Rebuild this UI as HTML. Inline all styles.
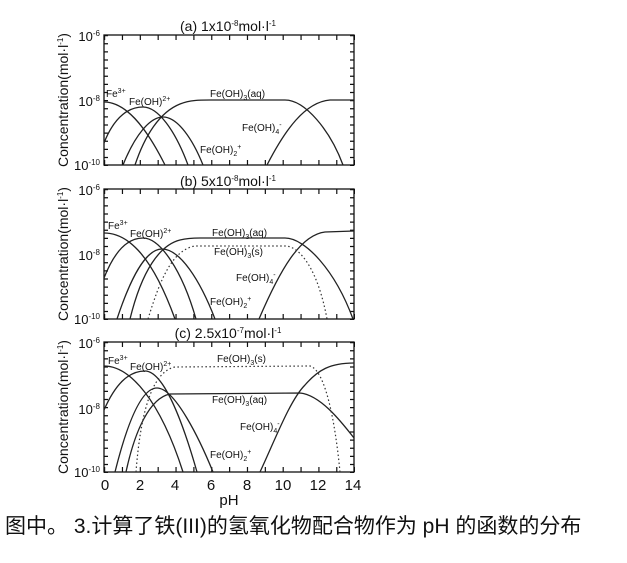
<!DOCTYPE html>
<html><head><meta charset="utf-8"><style>
html,body{margin:0;padding:0;background:#fff;width:627px;height:563px;overflow:hidden}
svg{display:block}
text{font-family:"Liberation Sans",Arial,sans-serif;fill:#111}
.c{fill:none;stroke:#222;stroke-width:1.3}
.d{fill:none;stroke:#333;stroke-width:1.2;stroke-dasharray:1.5 2.5}
.l{font-size:10px}
.t{font-size:14px}
.y{font-size:13px}
.a{font-size:15px}
</style></head><body>
<svg width="627" height="563" viewBox="0 0 627 563">
<defs>
<g id="box">
<rect x="104" y="0" width="250" height="130" fill="none" stroke="#111" stroke-width="1.3"/>
<line x1="104" y1="2.5" x2="355" y2="2.5" stroke="#111" stroke-width="5" stroke-dasharray="1.2 16.66"/>
<line x1="104" y1="127.5" x2="355" y2="127.5" stroke="#111" stroke-width="5" stroke-dasharray="1.2 16.66"/>
<line x1="106" y1="0" x2="106" y2="131" stroke="#111" stroke-width="4" stroke-dasharray="1.2 6.925"/>
<line x1="352" y1="0" x2="352" y2="131" stroke="#111" stroke-width="4" stroke-dasharray="1.2 6.925"/>
</g>
</defs>

<!-- Panel a -->
<text class="t" x="228" y="31" text-anchor="middle">(a) 1x10<tspan font-size="8" dy="-5">-8</tspan><tspan dy="5">mol·l</tspan><tspan font-size="8" dy="-5">-1</tspan></text>
<use href="#box" y="35"/>
<text class="y" x="100" y="41" text-anchor="end">10<tspan font-size="8" dy="-5">-6</tspan></text>
<text class="y" x="100" y="106" text-anchor="end">10<tspan font-size="8" dy="-5">-8</tspan></text>
<text class="y" x="100" y="170" text-anchor="end">10<tspan font-size="8" dy="-5">-10</tspan></text>
<text class="t" transform="translate(68,100) rotate(-90)" text-anchor="middle">Concentration(mol·l<tspan font-size="8" dy="-5">-1</tspan><tspan dy="5">)</tspan></text>
<path class="c" d="M104,102 C125,102 145,125 165,165"/>
<path class="c" d="M104,143 C115,115 130,107 143,107 C158,107 175,130 188,165"/>
<path class="c" d="M123,165 C135,135 150,117 163,117 C178,117 193,140 203,165"/>
<path class="c" d="M135,165 C145,135 160,112 180,104 C190,100 200,100 210,100 L285,100 C305,100 330,130 343,165"/>
<path class="c" d="M267,165 C285,130 305,102 330,100 L354,100"/>
<text class="l" x="106" y="97">Fe<tspan font-size="7" dy="-4">3+</tspan></text>
<text class="l" x="129" y="105">Fe(OH)<tspan font-size="7" dy="-4">2+</tspan></text>
<text class="l" x="210" y="97">Fe(OH)<tspan font-size="7" dy="3">3</tspan><tspan dy="-3">(aq)</tspan></text>
<text class="l" x="242" y="131">Fe(OH)<tspan font-size="7" dy="3">4</tspan><tspan font-size="7" dy="-7">-</tspan></text>
<text class="l" x="200" y="153">Fe(OH)<tspan font-size="7" dy="3">2</tspan><tspan font-size="7" dy="-7">+</tspan></text>

<!-- Panel b -->
<text class="t" x="228" y="186" text-anchor="middle">(b) 5x10<tspan font-size="8" dy="-5">-8</tspan><tspan dy="5">mol·l</tspan><tspan font-size="8" dy="-5">-1</tspan></text>
<use href="#box" y="189"/>
<text class="y" x="100" y="195" text-anchor="end">10<tspan font-size="8" dy="-5">-6</tspan></text>
<text class="y" x="100" y="260" text-anchor="end">10<tspan font-size="8" dy="-5">-8</tspan></text>
<text class="y" x="100" y="324" text-anchor="end">10<tspan font-size="8" dy="-5">-10</tspan></text>
<text class="t" transform="translate(68,254) rotate(-90)" text-anchor="middle">Concentration(mol·l<tspan font-size="8" dy="-5">-1</tspan><tspan dy="5">)</tspan></text>
<path class="c" d="M104,233 C125,233 150,250 175,319"/>
<path class="c" d="M104,278 C115,250 128,238 143,238 C160,238 182,270 196,319"/>
<path class="c" d="M117,319 C130,280 145,249 162,249 C180,249 200,280 215,319"/>
<path class="c" d="M130,319 C142,270 160,245 180,240 C188,238 195,238 200,238 L285,238 C305,238 335,270 353,319"/>
<path class="c" d="M259,319 C280,270 300,235 325,232 L354,231"/>
<path class="d" d="M148,319 C160,280 172,250 195,246 L285,246 C300,246 318,270 327,319"/>
<text class="l" x="108" y="229">Fe<tspan font-size="7" dy="-4">3+</tspan></text>
<text class="l" x="130" y="237">Fe(OH)<tspan font-size="7" dy="-4">2+</tspan></text>
<text class="l" x="212" y="236">Fe(OH)<tspan font-size="7" dy="3">3</tspan><tspan dy="-3">(aq)</tspan></text>
<text class="l" x="214" y="255">Fe(OH)<tspan font-size="7" dy="3">3</tspan><tspan dy="-3">(s)</tspan></text>
<text class="l" x="236" y="281">Fe(OH)<tspan font-size="7" dy="3">4</tspan><tspan font-size="7" dy="-7">-</tspan></text>
<text class="l" x="210" y="305">Fe(OH)<tspan font-size="7" dy="3">2</tspan><tspan font-size="7" dy="-7">+</tspan></text>

<!-- Panel c -->
<text class="t" x="228" y="338" text-anchor="middle">(c) 2.5x10<tspan font-size="8" dy="-5">-7</tspan><tspan dy="5">mol·l</tspan><tspan font-size="8" dy="-5">-1</tspan></text>
<use href="#box" y="342"/>
<text class="y" x="100" y="348" text-anchor="end">10<tspan font-size="8" dy="-5">-6</tspan></text>
<text class="y" x="100" y="414" text-anchor="end">10<tspan font-size="8" dy="-5">-8</tspan></text>
<text class="y" x="100" y="477" text-anchor="end">10<tspan font-size="8" dy="-5">-10</tspan></text>
<text class="t" transform="translate(68,407) rotate(-90)" text-anchor="middle">Concentration(mol·l<tspan font-size="8" dy="-5">-1</tspan><tspan dy="5">)</tspan></text>
<path class="c" d="M104,366 C130,366 160,400 183,472"/>
<path class="c" d="M104,410 C115,385 128,371 145,371 C165,371 185,430 197,472"/>
<path class="c" d="M115,472 C128,420 142,388 157,388 C175,388 200,440 213,472"/>
<path class="c" d="M126,472 C135,430 150,398 170,394 L300,393 C320,395 340,420 354,438"/>
<path class="c" d="M260,472 C275,440 290,400 305,385 C318,370 330,363 354,363"/>
<path class="d" d="M136,472 C140,420 150,372 175,367 L310,366 C325,370 335,420 340,472"/>
<text class="l" x="108" y="364">Fe<tspan font-size="7" dy="-4">3+</tspan></text>
<text class="l" x="130" y="370">Fe(OH)<tspan font-size="7" dy="-4">2+</tspan></text>
<text class="l" x="217" y="362">Fe(OH)<tspan font-size="7" dy="3">3</tspan><tspan dy="-3">(s)</tspan></text>
<text class="l" x="212" y="403">Fe(OH)<tspan font-size="7" dy="3">3</tspan><tspan dy="-3">(aq)</tspan></text>
<text class="l" x="240" y="430">Fe(OH)<tspan font-size="7" dy="3">4</tspan><tspan font-size="7" dy="-7">-</tspan></text>
<text class="l" x="210" y="458">Fe(OH)<tspan font-size="7" dy="3">2</tspan><tspan font-size="7" dy="-7">+</tspan></text>

<g class="a" text-anchor="middle">
<text x="105" y="490">0</text><text x="140" y="490">2</text><text x="175" y="490">4</text><text x="211" y="490">6</text><text x="247" y="490">8</text><text x="283" y="490">10</text><text x="318" y="490">12</text><text x="353" y="490">14</text>
<text x="229" y="505">pH</text>
</g>

<text x="5" y="533" style="font-family:'Liberation Sans','Noto Sans CJK SC',sans-serif;font-size:21px">图中。  3.计算了铁(III)的氢氧化物配合物作为 pH 的函数的分布</text>
</svg>
</body></html>
